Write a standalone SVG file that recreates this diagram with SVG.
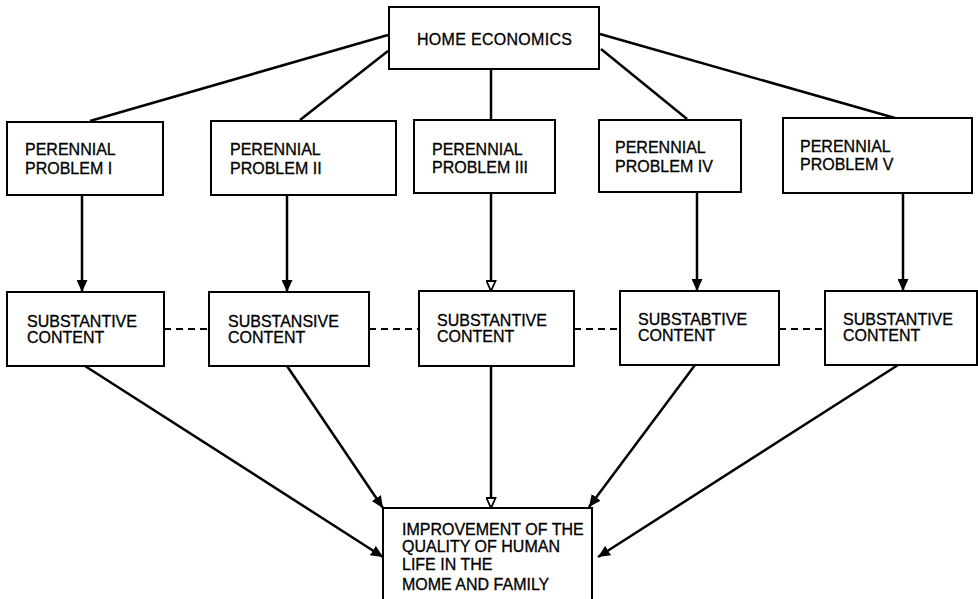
<svg xmlns="http://www.w3.org/2000/svg" width="978" height="599" viewBox="0 0 978 599">
<defs>
<style>
.box{fill:#fff;stroke:#000;stroke-width:2}
.t{font-family:"Liberation Sans",Arial,sans-serif;font-size:16px;fill:#000;stroke:#000;stroke-width:0.3}
.ln{stroke:#000;stroke-width:2.5;fill:none}
.dash{stroke:#000;stroke-width:2;stroke-dasharray:7 5;fill:none}
</style>
<marker id="ah" markerUnits="userSpaceOnUse" markerWidth="13" markerHeight="11" refX="12" refY="5.5" orient="auto">
<path d="M0,0 L12,5.5 L0,11 z" fill="#000"/>
</marker>
<marker id="ao" markerUnits="userSpaceOnUse" markerWidth="13" markerHeight="11" refX="11" refY="5.5" orient="auto">
<path d="M1,1 L11,5.5 L1,10 z" fill="#fff" stroke="#000" stroke-width="1.8"/>
</marker>
</defs>
<rect width="978" height="599" fill="#fff"/>
<g id="connectors">
<line class="ln" x1="388" y1="35" x2="90" y2="121"/>
<line class="ln" x1="388" y1="51" x2="300" y2="120"/>
<line class="ln" x1="491" y1="69" x2="491" y2="120"/>
<line class="ln" x1="601" y1="49" x2="687" y2="119"/>
<line class="ln" x1="600" y1="34" x2="895" y2="118"/>
<line class="ln" x1="82" y1="195" x2="82" y2="292" marker-end="url(#ah)"/>
<line class="ln" x1="287" y1="195" x2="287" y2="292" marker-end="url(#ah)"/>
<line class="ln" x1="491" y1="193" x2="491" y2="291" marker-end="url(#ao)"/>
<line class="ln" x1="697" y1="192" x2="697" y2="291" marker-end="url(#ah)"/>
<line class="ln" x1="903" y1="193" x2="903" y2="291" marker-end="url(#ah)"/>
<line class="dash" x1="164" y1="329" x2="209" y2="329"/>
<line class="dash" x1="369" y1="329" x2="419" y2="329"/>
<line class="dash" x1="574" y1="329" x2="620" y2="329"/>
<line class="dash" x1="779" y1="329" x2="825" y2="329"/>
<line class="ln" x1="85" y1="366" x2="383" y2="557" marker-end="url(#ah)"/>
<line class="ln" x1="287" y1="366" x2="383" y2="508" marker-end="url(#ah)"/>
<line class="ln" x1="491" y1="366" x2="491" y2="508" marker-end="url(#ao)"/>
<line class="ln" x1="695" y1="365" x2="589" y2="507" marker-end="url(#ah)"/>
<line class="ln" x1="898" y1="365" x2="598" y2="557" marker-end="url(#ah)"/>
</g>
<g id="home">
<rect class="box" x="389" y="7" width="210" height="62"/>
<text class="t" x="417" y="45" textLength="155">HOME ECONOMICS</text>
</g>
<g id="pp1">
<rect class="box" x="7" y="122" width="156" height="73"/>
<text class="t" x="25" y="155">PERENNIAL</text>
<text class="t" x="25" y="174">PROBLEM  I</text>
</g>
<g id="pp2">
<rect class="box" x="211" y="121" width="185" height="74"/>
<text class="t" x="230" y="155">PERENNIAL</text>
<text class="t" x="230" y="174">PROBLEM  II</text>
</g>
<g id="pp3">
<rect class="box" x="414" y="120" width="141" height="73"/>
<text class="t" x="432" y="155">PERENNIAL</text>
<text class="t" x="432" y="173">PROBLEM  III</text>
</g>
<g id="pp4">
<rect class="box" x="599" y="120" width="142" height="72"/>
<text class="t" x="615" y="153">PERENNIAL</text>
<text class="t" x="615" y="172">PROBLEM  IV</text>
</g>
<g id="pp5">
<rect class="box" x="783" y="118" width="189" height="75"/>
<text class="t" x="800" y="152">PERENNIAL</text>
<text class="t" x="800" y="170">PROBLEM  V</text>
</g>
<g id="sc1">
<rect class="box" x="7" y="292" width="157" height="74"/>
<text class="t" x="27" y="327">SUBSTANTIVE</text>
<text class="t" x="27" y="343">CONTENT</text>
</g>
<g id="sc2">
<rect class="box" x="209" y="292" width="160" height="74"/>
<text class="t" x="228" y="327">SUBSTANSIVE</text>
<text class="t" x="228" y="343">CONTENT</text>
</g>
<g id="sc3">
<rect class="box" x="419" y="291" width="155" height="75"/>
<text class="t" x="437" y="326">SUBSTANTIVE</text>
<text class="t" x="437" y="342">CONTENT</text>
</g>
<g id="sc4">
<rect class="box" x="620" y="291" width="159" height="74"/>
<text class="t" x="638" y="325">SUBSTABTIVE</text>
<text class="t" x="638" y="341">CONTENT</text>
</g>
<g id="sc5">
<rect class="box" x="825" y="291" width="152" height="74"/>
<text class="t" x="843" y="325">SUBSTANTIVE</text>
<text class="t" x="843" y="341">CONTENT</text>
</g>
<g id="result">
<rect class="box" x="383" y="508" width="209" height="100"/>
<text class="t" x="402" y="535">IMPROVEMENT OF THE</text>
<text class="t" x="402" y="552">QUALITY OF  HUMAN</text>
<text class="t" x="402" y="570">LIFE IN THE</text>
<text class="t" x="402" y="590">MOME  AND FAMILY</text>
</g>
</svg>
